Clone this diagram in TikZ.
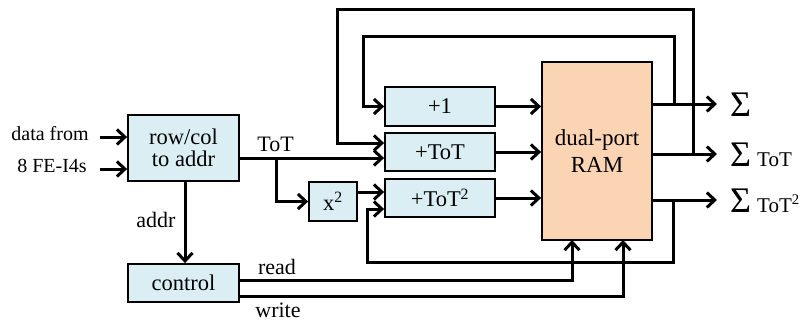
\documentclass[tikz,border=0pt]{standalone}
\usepackage{fontspec}
\setmainfont{Liberation Serif}
\usetikzlibrary{arrows.meta}
\definecolor{boxblue}{RGB}{218,238,243}
\definecolor{rampeach}{RGB}{251,212,180}
\tikzset{
  blk/.style={draw=black, line width=1.8pt, fill=boxblue, inner sep=0pt, font=\fontsize{22.5}{24}\selectfont},
  ramblk/.style={draw=black, line width=1.8pt, fill=rampeach, inner sep=0pt, font=\fontsize{23}{27}\selectfont, align=center},
  wire/.style={line width=3pt, line join=miter},
  arr/.style={wire, -{Straight Barb[length=8pt,width=15pt]}},
  lbl/.style={font=\fontsize{22}{24}\selectfont, inner sep=0pt},
  sig/.style={font=\fontsize{36}{38}\selectfont, inner sep=0pt, anchor=base west},
}
\begin{document}
\begin{tikzpicture}[x=1pt,y=-1pt]
\useasboundingbox (0,0) rectangle (806,322);
% blocks
\node[blk, minimum width=111pt, minimum height=66pt, align=center] (rc) at (183.5,148) {row/col\\[-2pt]to addr};
\node[blk, minimum width=111pt, minimum height=38pt] (ctrl) at (183.5,283) {control};
\node[blk, minimum width=110pt, minimum height=39pt] (p1) at (440,106.5) {+1};
\node[blk, minimum width=110pt, minimum height=38pt] (pt) at (440,152) {+ToT};
\node[blk, minimum width=110pt, minimum height=38pt] (pt2) at (440,198) {+ToT\textsuperscript{2}};
\node[blk, minimum width=48pt, minimum height=39pt] (x2) at (333,201.5) {x\textsuperscript{2}};
\node[ramblk, minimum width=110pt, minimum height=178pt] (ram) at (597,151) {dual-port\\RAM};
% input labels
\node[lbl, font=\fontsize{20}{22}\selectfont] (d1) at (50,134) {data from};
\node[lbl, font=\fontsize{20}{22}\selectfont] (d2) at (52,166) {8 FE-I4s};
\coordinate (in1) at (100,137);
\coordinate (in2) at (100,169);
\draw[arr] (in1) -- (in1 -| rc.west);
\draw[arr] (in2) -- (in2 -| rc.west);
% ToT
\coordinate (tot) at (239,158);
\coordinate (br) at (276,158);
\node[lbl] (totl) at (275.5,144) {ToT};
\draw[arr] (tot) -- (tot -| pt.west);
\draw[arr] (br) |- (x2.west);
\coordinate (x2o) at (357,192);
\draw[arr] (x2o) -- (x2o -| pt2.west);
% addr
\coordinate (ad) at (185,181);
\node[lbl] (addrl) at (156,220) {addr};
\draw[arr] (ad) -- (ad |- ctrl.north);
% box to RAM
\draw[arr] (p1.east) -- (p1.east -| ram.west);
\draw[arr] (pt.east) -- (pt.east -| ram.west);
\draw[arr] (pt2.east) -- (pt2.east -| ram.west);
% outputs
\coordinate (o1) at (652,104);
\coordinate (o2) at (652,154);
\coordinate (o3) at (652,200);
\coordinate (e1) at (717,104);
\coordinate (e2) at (717,154);
\coordinate (e3) at (717,200);
\draw[arr] (o1) -- (e1);
\draw[arr] (o2) -- (e2);
\draw[arr] (o3) -- (e3);
\node[sig] (s1) at (730,116) {Σ};
\node[sig] (s2) at (730,166) {Σ\,{\fontsize{21}{23}\selectfont ToT}};
\node[sig] (s3) at (730,212) {Σ\,{\fontsize{21}{23}\selectfont ToT\textsuperscript{2}}};
% feedback loops
\coordinate (f1) at (693,154);
\coordinate (f2) at (674,104);
\coordinate (f3) at (673,200);
\coordinate (g1) at (337,143);
\draw[arr] (f1) -- (693,9) -- (337,9) -- (g1) -- (g1 -| pt.west);
\draw[arr] (f2) -- (674,36) -- (363,36) |- (p1.west);
\coordinate (g3) at (367,209);
\draw[arr] (f3) -- (673,262) -- (367,262) -- (g3) -- (g3 -| pt2.west);
% read / write
\coordinate (rd) at (239,280);
\coordinate (wr) at (239,296);
\draw[arr] (rd) -| (572,240);
\draw[arr] (wr) -| (623,240);
\node[lbl] (readl) at (277,267) {read};
\node[lbl] (writel) at (278,310) {write};
\end{tikzpicture}
\end{document}
